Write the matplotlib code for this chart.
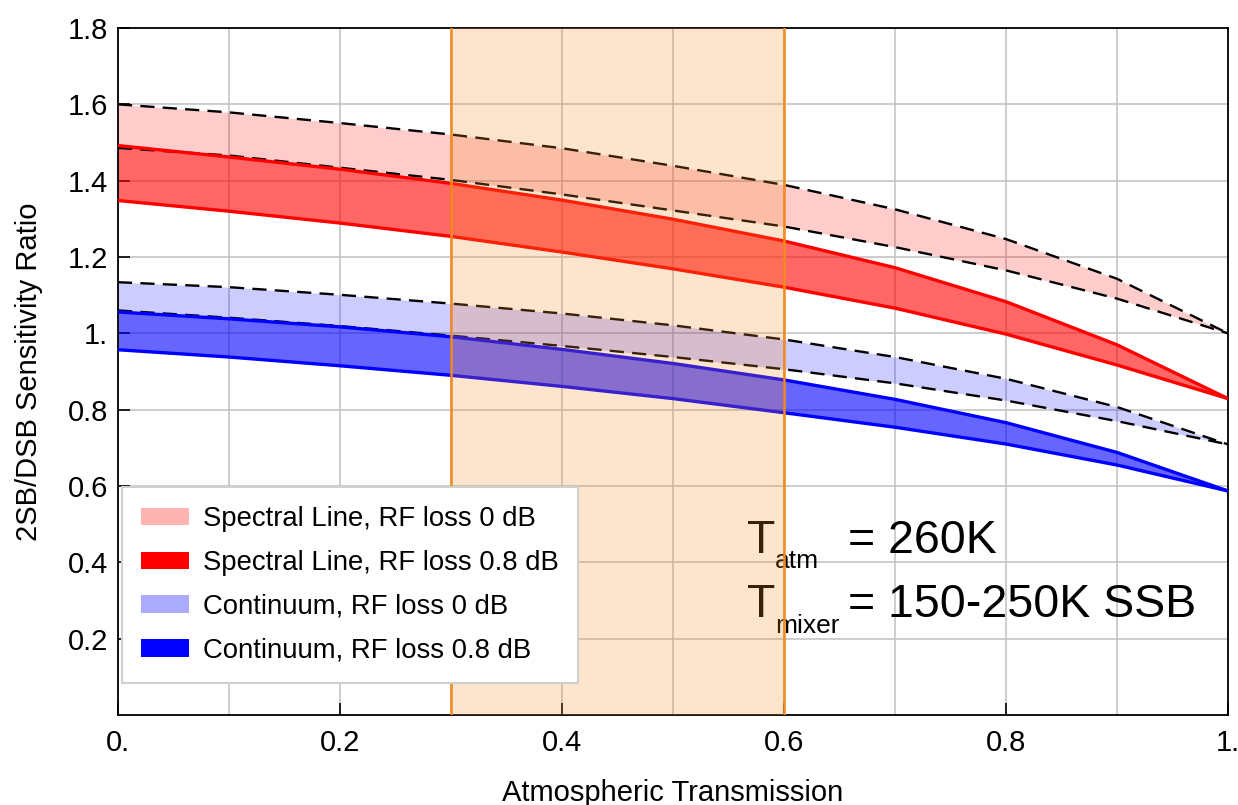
import numpy as np
import matplotlib
matplotlib.use("Agg")
import matplotlib.pyplot as plt
from matplotlib.patches import Patch

plt.rcParams['font.family'] = ['Liberation Sans', 'DejaVu Sans']

# atmospheric transmission
trans = [0.0, 0.1, 0.2, 0.3, 0.4, 0.5, 0.6, 0.7, 0.8, 0.9, 1.0]

# spectral line, RF loss 0 dB (dashed edges)
line0_hi = [1.600, 1.579, 1.551, 1.521, 1.485, 1.439, 1.389, 1.325, 1.247, 1.143, 1.000]
line0_lo = [1.486, 1.466, 1.434, 1.402, 1.364, 1.322, 1.280, 1.226, 1.165, 1.091, 1.000]
# spectral line, RF loss 0.8 dB
line8_hi = [1.492, 1.462, 1.430, 1.393, 1.349, 1.299, 1.242, 1.172, 1.083, 0.970, 0.829]
line8_lo = [1.348, 1.320, 1.289, 1.254, 1.213, 1.169, 1.121, 1.066, 0.998, 0.917, 0.829]
# continuum, RF loss 0 dB (dashed edges)
cont0_hi = [1.134, 1.121, 1.101, 1.078, 1.052, 1.021, 0.984, 0.938, 0.881, 0.807, 0.709]
cont0_lo = [1.060, 1.041, 1.019, 0.994, 0.967, 0.938, 0.906, 0.869, 0.824, 0.770, 0.709]
# continuum, RF loss 0.8 dB
cont8_hi = [1.056, 1.038, 1.017, 0.991, 0.958, 0.921, 0.878, 0.827, 0.766, 0.688, 0.587]
cont8_lo = [0.957, 0.938, 0.915, 0.890, 0.861, 0.829, 0.792, 0.754, 0.710, 0.655, 0.587]

legend_labels = ["Spectral Line, RF loss 0 dB", "Spectral Line, RF loss 0.8 dB",
                 "Continuum, RF loss 0 dB", "Continuum, RF loss 0.8 dB"]
window = (0.3, 0.6)

fig = plt.figure(figsize=(12.38, 8.05), dpi=100)
ax = fig.add_axes([0.0953, 0.1118, 0.8966, 0.8534])

x = np.array(trans)
dash = (0, (6, 3.5))

# bands
ax.fill_between(x, line0_lo, line0_hi, color='red', alpha=0.2, lw=0, zorder=2)
ax.plot(x, line0_hi, color='black', lw=1.7, ls=dash, zorder=3)
ax.plot(x, line0_lo, color='black', lw=1.7, ls=dash, zorder=3)

ax.fill_between(x, line8_lo, line8_hi, color='red', alpha=0.6, lw=0, zorder=2)
ax.plot(x, line8_hi, color='red', lw=2.4, zorder=3)
ax.plot(x, line8_lo, color='red', lw=2.4, zorder=3)

ax.fill_between(x, cont0_lo, cont0_hi, color='blue', alpha=0.2, lw=0, zorder=2)
ax.plot(x, cont0_hi, color='black', lw=1.7, ls=dash, zorder=3)
ax.plot(x, cont0_lo, color='black', lw=1.7, ls=dash, zorder=3)

ax.fill_between(x, cont8_lo, cont8_hi, color='blue', alpha=0.6, lw=0, zorder=2)
ax.plot(x, cont8_hi, color='blue', lw=2.4, zorder=3)
ax.plot(x, cont8_lo, color='blue', lw=2.4, zorder=3)

# annotation
ax.text(0.5667, 0.424, "T", fontsize=33.5, va='baseline', ha='left', zorder=3)
ax.text(0.592, 0.385, "atm", fontsize=19, va='baseline', ha='left', zorder=3)
ax.text(0.658, 0.424, "= 260K", fontsize=33.5, va='baseline', ha='left', zorder=3)
ax.text(0.5667, 0.2565, "T", fontsize=33.5, va='baseline', ha='left', zorder=3)
ax.text(0.592, 0.2147, "mixer", fontsize=19, va='baseline', ha='left', zorder=3)
ax.text(0.658, 0.2565, "= 150-250K SSB", fontsize=33.5, va='baseline', ha='left', zorder=3)

# observing window overlay
ax.axvspan(window[0], window[1], color=(245/255, 140/255, 40/255), alpha=0.23, lw=0, zorder=4)
for xv in window:
    ax.axvline(xv, color='#f5891f', lw=1.8, zorder=4)

ax.set_xlim(0, 1)
ax.set_ylim(0, 1.8)
ax.set_xticks([0, 0.2, 0.4, 0.6, 0.8, 1.0])
ax.set_xticklabels(["0.", "0.2", "0.4", "0.6", "0.8", "1."])
ax.set_xticks([0.1, 0.3, 0.5, 0.7, 0.9], minor=True)
ax.set_yticks([0.2, 0.4, 0.6, 0.8, 1.0, 1.2, 1.4, 1.6, 1.8])
ax.set_yticklabels(["0.2", "0.4", "0.6", "0.8", "1.", "1.2", "1.4", "1.6", "1.8"])
ax.tick_params(axis='both', which='major', direction='in', length=8.5, width=1.2,
               labelsize=21, colors='black')
ax.tick_params(axis='x', which='major', pad=10)
ax.tick_params(axis='y', which='major', pad=7)
ax.tick_params(axis='x', which='minor', length=0)
ax.grid(axis='x', which='both', color='#c0c0c0', lw=1.1)
ax.grid(axis='y', which='major', color='#c0c0c0', lw=1.1)
ax.set_axisbelow(True)
for s in ax.spines.values():
    s.set_linewidth(1.3)

ax.set_xlabel("Atmospheric Transmission", fontsize=21, labelpad=16)
ax.set_ylabel("2SB/DSB Sensitivity Ratio", fontsize=21, labelpad=18)

handles = [Patch(facecolor='#ffb3b3'), Patch(facecolor='#ff0000'),
           Patch(facecolor='#aaaaff'), Patch(facecolor='#0000ff')]
leg = ax.legend(handles, legend_labels, loc='upper left', bbox_to_anchor=(0.0036, 0.332),
                borderaxespad=0, fontsize=19.8, frameon=True, fancybox=False,
                edgecolor='#d0d0d0', framealpha=1, handlelength=1.75, handleheight=0.6,
                handletextpad=0.5, labelspacing=0.65, borderpad=0.7)
leg.set_zorder(6)
leg.get_frame().set_linewidth(1.5)

fig.savefig("out.png", dpi=100)
